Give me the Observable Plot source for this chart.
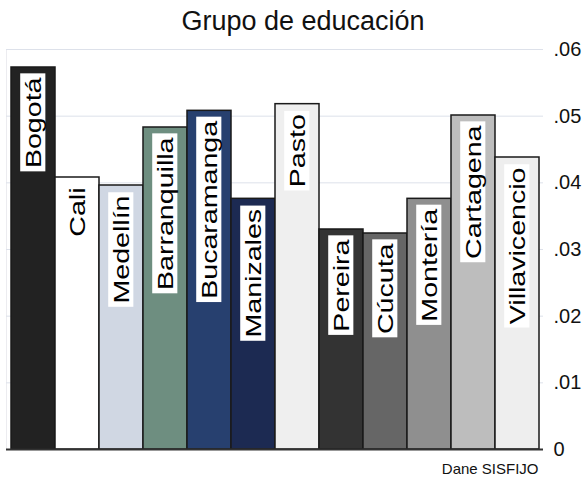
<!DOCTYPE html>
<html>
<head>
<meta charset="utf-8">
<script src="https://cdn.jsdelivr.net/npm/d3@7"></script>
<script src="https://cdn.jsdelivr.net/npm/@observablehq/plot@0.6"></script>
<style>
  html, body { margin: 0; padding: 0; background: #fff; }
  #chart { width: 586px; height: 479px; overflow: hidden; }
  svg { font-family: "Liberation Sans", Arial, Helvetica, sans-serif; }
</style>
</head>
<body>
<div id="chart"></div>
<script>
const cities = ["Bogotá", "Cali", "Medellín", "Barranquilla", "Bucaramanga", "Manizales",
                "Pasto", "Pereira", "Cúcuta", "Montería", "Cartagena", "Villavicencio"];
const values = [0.0573, 0.0408, 0.0396, 0.0483, 0.0508, 0.0376,
                0.0518, 0.0330, 0.0324, 0.0376, 0.0501, 0.0438];
const colors = ["#222222", "#ffffff", "#d0d7e3", "#6e8e80", "#27406f", "#1c2a52",
                "#efefef", "#333333", "#666666", "#8f8f8f", "#bdbdbd", "#eeeeee"];
const yTicks = [0, 0.01, 0.02, 0.03, 0.04, 0.05, 0.06];
const gridTicks = [0.01, 0.02, 0.03, 0.04, 0.05, 0.06];
const titleText = "Grupo de educación";
const captionText = "Dane SISFIJO";

const data = cities.map((c, i) => ({city: c, value: values[i], color: colors[i]}));
const fmt = d => d === 0 ? "0" : d3.format(".2f")(d).replace(/^0/, "");

const chart = Plot.plot({
  width: 586,
  height: 479,
  marginTop: 49,
  marginBottom: 30,
  marginLeft: 6,
  marginRight: 43,
  style: {fontFamily: '"Liberation Sans", Arial, sans-serif', background: "#fff"},
  x: {domain: cities, padding: 0, axis: null},
  y: {domain: [0, 0.06], label: null},
  marks: [
    Plot.frame({anchor: "left", stroke: "#ececf0"}),
    Plot.ruleY(gridTicks, {stroke: "#dde1ea", strokeWidth: 1}),
    Plot.barY(data, {x: "city", y: "value", fill: "color", stroke: "#1a1a1a", strokeWidth: 1.5}),
    Plot.ruleY([0], {stroke: "#333", strokeWidth: 2}),
    Plot.axisY({anchor: "right", ticks: yTicks, tickFormat: fmt, tickSize: 0, tickPadding: 10,
                fontSize: 20, color: "#111", label: null}),
    Plot.text(data, {x: "city", y: "value", text: "city", rotate: -90, textAnchor: "end",
                     lineAnchor: "middle", dy: 10, fontSize: 22, fill: "#000"}),
    Plot.text([titleText], {frameAnchor: "top", dx: 28, dy: -20, lineAnchor: "bottom",
                            fontSize: 27, fill: "#111"}),
    Plot.text([captionText], {frameAnchor: "bottom-right", dx: -5, dy: 24, lineAnchor: "bottom",
                              textAnchor: "end", fontSize: 15, fill: "#111"})
  ]
});
document.getElementById("chart").appendChild(chart);

// Stretch rotated bar labels along their length and give them a white box
const textGroups = chart.querySelectorAll('g[aria-label="text"]');
const labelGroup = textGroups[0];
if (labelGroup) {
  labelGroup.querySelectorAll("text").forEach(t => {
    const tr = (t.getAttribute("transform") || "") + " scale(1.3,1)";
    t.setAttribute("transform", tr);
    const bb = t.getBBox();
    const r = document.createElementNS("http://www.w3.org/2000/svg", "rect");
    const padX = 2.5, padY = 1.5;
    r.setAttribute("x", bb.x - padX);
    r.setAttribute("y", bb.y - padY + 1);
    r.setAttribute("width", bb.width + 2 * padX);
    r.setAttribute("height", bb.height + 2 * padY - 2);
    r.setAttribute("fill", "#fff");
    r.setAttribute("stroke", "none");
    r.setAttribute("transform", tr);
    t.parentNode.insertBefore(r, t);
  });
}
</script>
</body>
</html>
